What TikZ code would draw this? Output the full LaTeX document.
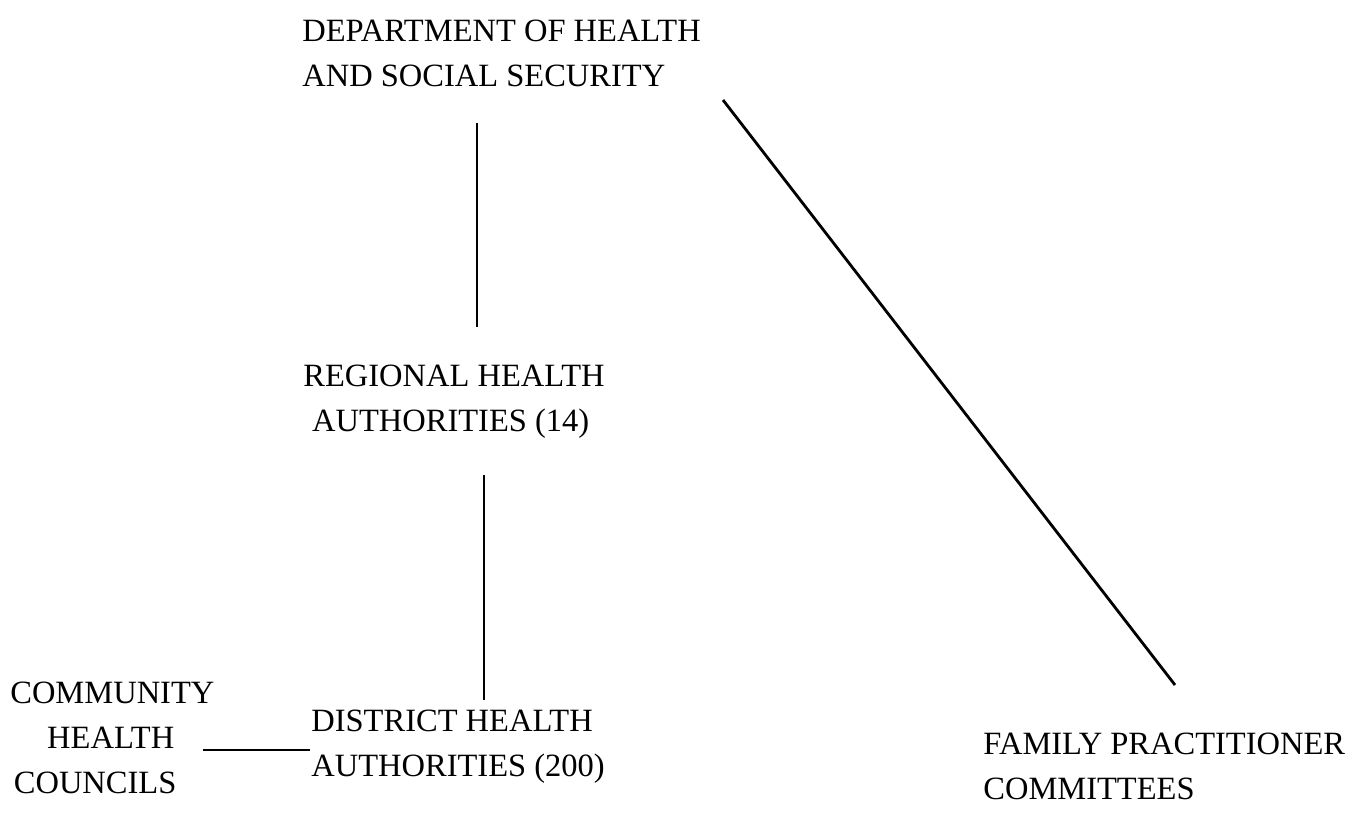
\documentclass[tikz,border=0pt]{standalone}
\usepackage{fontspec}
\setmainfont{Liberation Serif}
\tikzset{
	label/.style={inner sep=0pt,font=\fontsize{18.5}{25.5}\selectfont},
	link/.style={line width=1.1pt},
}
\begin{document}
	\begin{tikzpicture}[x=0.02cm,y=-0.02cm]
		\useasboundingbox (0,0) rectangle (1364,813);
		\node[label,anchor=north west,align=left] (dhss) at (302,20) {DEPARTMENT OF HEALTH\\AND SOCIAL SECURITY};
		\node[label,anchor=north west,align=left] (rha) at (303,365) {REGIONAL HEALTH\\\hspace{5pt}AUTHORITIES (14)};
		\node[label,anchor=north west,align=left] (dha) at (311,710) {DISTRICT HEALTH\\AUTHORITIES (200)};
		\node[label,anchor=north west,align=left] (chc) at (10,682) {COMMUNITY\\\hspace{21pt}HEALTH\\\hspace{2pt}COUNCILS};
		\node[label,anchor=north west,align=left] (fpc) at (983,733) {FAMILY PRACTITIONER\\COMMITTEES};
		% line ends
		\coordinate (dhss-s) at (477,123);
		\coordinate (rha-n) at (477,327);
		\coordinate (rha-s) at (484,475);
		\coordinate (dha-n) at (484,700);
		\coordinate (chc-e) at (203,750);
		\coordinate (dha-w) at (310,750);
		\coordinate (dhss-e) at (723,100);
		\coordinate (fpc-n) at (1175,685);
		\draw[link] (dhss-s) -- (rha-n);
		\draw[link] (rha-s) -- (dha-n);
		\draw[link] (chc-e) -- (dha-w);
		\draw[link,line width=1.6pt] (dhss-e) -- (fpc-n);
	\end{tikzpicture}
\end{document}
